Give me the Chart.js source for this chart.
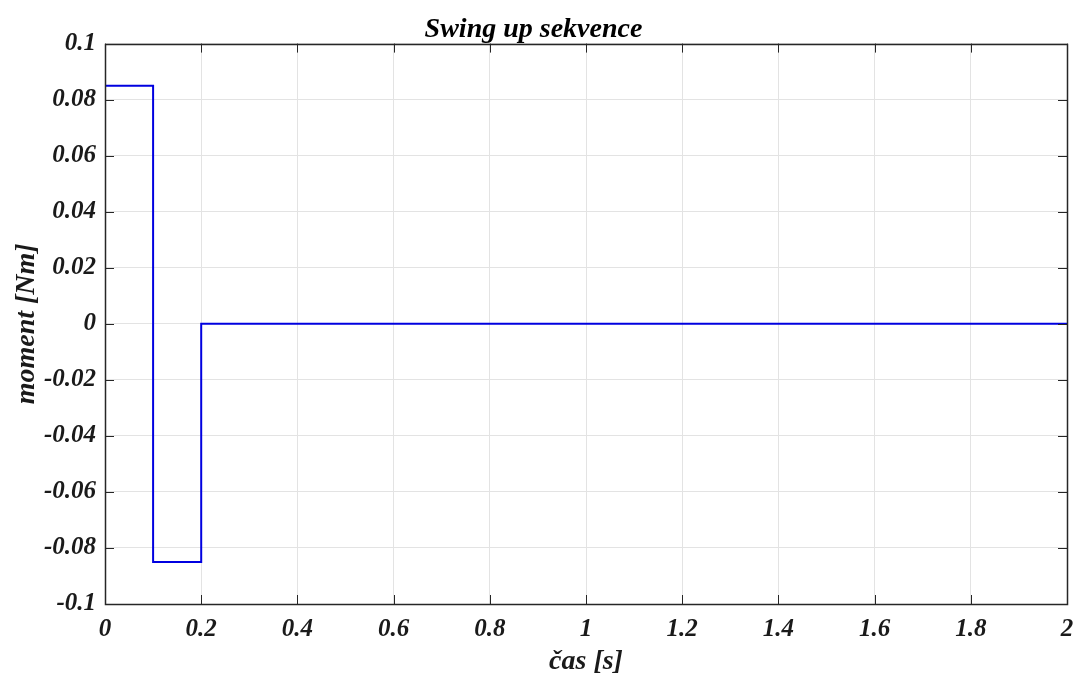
<!DOCTYPE html>
<html>
<head>
<meta charset="utf-8">
<script src="https://cdn.jsdelivr.net/npm/chart.js@4"></script>
<style>
  html, body { margin: 0; padding: 0; background: #fff; }
  canvas { display: block; }
</style>
</head>
<body>
<canvas id="swingChart" width="1077" height="673"></canvas>
<script>
// swing up sekvence - moment vs cas
const casValues = [0, 0.1, 0.2, 2];
const momentValues = [0.085, -0.085, 0, 0];
const xTickValues = [0, 0.2, 0.4, 0.6, 0.8, 1, 1.2, 1.4, 1.6, 1.8, 2];
const yTickValues = [-0.1, -0.08, -0.06, -0.04, -0.02, 0, 0.02, 0.04, 0.06, 0.08, 0.1];

const serif = '"Liberation Serif", "Times New Roman", serif';
const tickFont = { family: serif, size: 25, style: 'italic', weight: 'bold' };
const titleFont = { family: serif, size: 28, style: 'italic', weight: 'bold' };
const gridColor = '#e3e3e3';
const boxColor = '#262626';

// box + inward ticks on all 4 sides, like matlab
const boxTicks = {
    id: 'boxTicks',
    afterDraw(chart) {
        const { ctx, chartArea: a, scales } = chart;
        const len = 9;
        ctx.save();
        ctx.strokeStyle = boxColor;
        ctx.lineWidth = 1;
        ctx.beginPath();
        scales.x.ticks.forEach(t => {
            const px = Math.round(scales.x.getPixelForValue(t.value)) + 0.5;
            ctx.moveTo(px, a.bottom); ctx.lineTo(px, a.bottom - len);
            ctx.moveTo(px, a.top); ctx.lineTo(px, a.top + len);
        });
        scales.y.ticks.forEach(t => {
            const py = Math.round(scales.y.getPixelForValue(t.value)) + 0.5;
            ctx.moveTo(a.left, py); ctx.lineTo(a.left + len, py);
            ctx.moveTo(a.right, py); ctx.lineTo(a.right - len, py);
        });
        ctx.stroke();
        ctx.lineWidth = 1.5;
        ctx.strokeRect(Math.round(a.left) + 0.5, Math.round(a.top) + 0.5,
            Math.round(a.right - a.left), Math.round(a.bottom - a.top));
        ctx.restore();
    }
};

new Chart(document.getElementById('swingChart'), {
    type: 'line',
    data: {
        datasets: [{
            data: casValues.map((x, i) => ({ x, y: momentValues[i] })),
            stepped: true,
            borderColor: '#0000e0',
            borderWidth: 2,
            pointRadius: 0,
            fill: false
        }]
    },
    options: {
        responsive: false,
        animation: false,
        layout: { padding: { left: 0, right: 10, top: 0, bottom: 0 } },
        plugins: {
            legend: { display: false },
            tooltip: { enabled: false },
            title: {
                display: true,
                text: 'Swing up sekvence',
                color: '#000',
                font: titleFont,
                padding: { top: 13, bottom: -3 }
            }
        },
        scales: {
            x: {
                type: 'linear',
                min: 0,
                max: 2,
                afterBuildTicks: s => { s.ticks = xTickValues.map(v => ({ value: v })); },
                afterFit: s => { s.height = 69; s.paddingLeft = 0; s.paddingRight = 0; },
                ticks: {
                    color: '#1a1a1a',
                    font: tickFont,
                    padding: 11,
                    maxRotation: 0,
                    callback: v => String(v)
                },
                grid: { color: gridColor, drawTicks: false },
                border: { display: false },
                title: {
                    display: true,
                    text: 'čas [s]',
                    color: '#1a1a1a',
                    font: titleFont,
                    padding: { top: 0, bottom: -6 }
                }
            },
            y: {
                type: 'linear',
                min: -0.1,
                max: 0.1,
                afterBuildTicks: s => { s.ticks = yTickValues.map(v => ({ value: v })); },
                afterFit: s => { s.width = 105; },
                ticks: {
                    color: '#1a1a1a',
                    font: tickFont,
                    padding: 9,
                    callback: v => String(v)
                },
                grid: { color: gridColor, drawTicks: false },
                border: { display: false },
                title: {
                    display: true,
                    text: 'moment [Nm]',
                    color: '#1a1a1a',
                    font: titleFont,
                    padding: { top: 10, bottom: 0 }
                }
            }
        }
    },
    plugins: [boxTicks]
});
</script>
</body>
</html>
